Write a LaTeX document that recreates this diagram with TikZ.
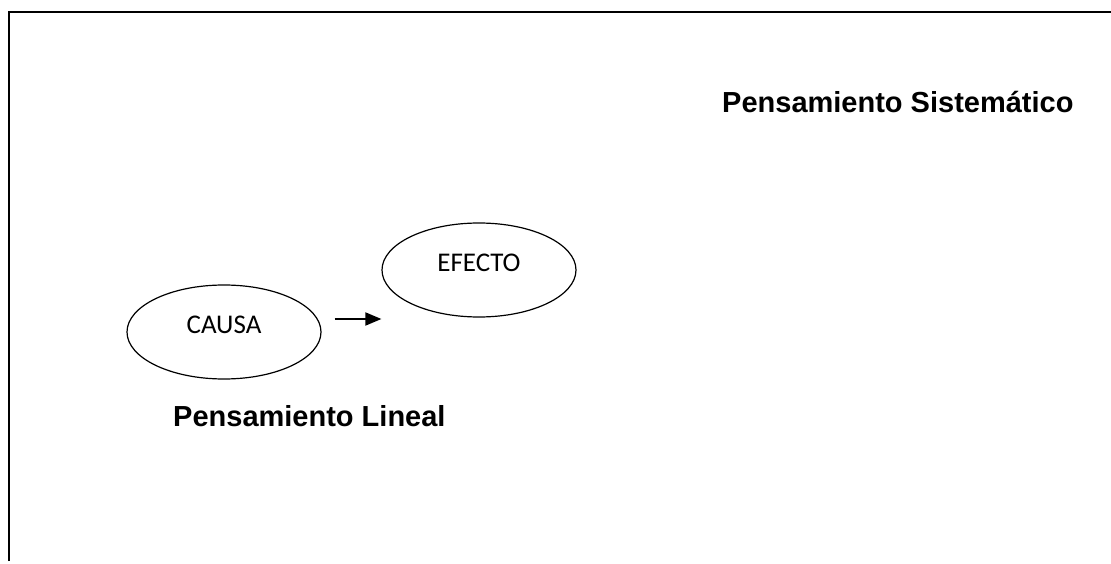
\documentclass[tikz,border=0pt]{standalone}
\usepackage{fontspec}
\setmainfont{Liberation Sans}
\newfontfamily\calibri{Carlito}
\usetikzlibrary{shapes.geometric,arrows.meta}

\begin{document}
\begin{tikzpicture}[x=1pt,y=1pt,
  elipse/.style={draw,ellipse,line width=1.2pt,inner sep=0pt,
    minimum width=194pt,minimum height=94pt,text depth=14pt,
    font=\calibri\fontsize{27}{32}\selectfont},
  titulo/.style={anchor=base west,inner sep=0pt,
    font=\bfseries\fontsize{29}{34}\selectfont},
  flecha/.style={line width=1.8pt,-{Triangle[length=16pt,width=13pt]}}]
  \useasboundingbox (0,0) rectangle (1111,563);
  % marco
  \coordinate (m1) at (9,2);
  \coordinate (m2) at (9,551);
  \coordinate (m3) at (1111,551);
  \draw[line width=2.2pt] (m1)--(m2)--(m3);
  \node[elipse] (causa) at (224,231) {CAUSA};
  \node[elipse] (efecto) at (479,293) {EFECTO};
  \node[titulo] (lineal) at (173,137) {Pensamiento Lineal};
  \node[titulo] (sistema) at (722,450) {Pensamiento Sistemático};
  \draw[flecha] ([shift={(13,13)}]causa.east) -- ([yshift=13]causa.east -| efecto.west);
\end{tikzpicture}
\end{document}
